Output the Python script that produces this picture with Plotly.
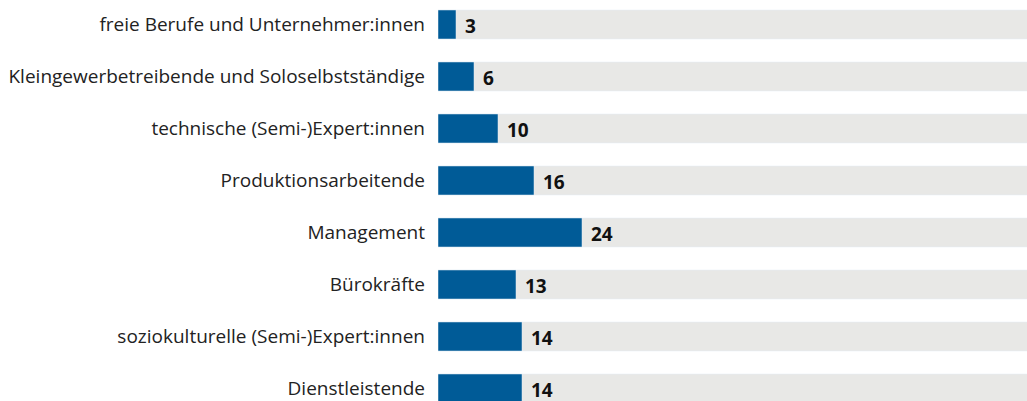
import plotly.graph_objects as go

categories = [
    "freie Berufe und Unternehmer:innen",
    "Kleingewerbetreibende und Soloselbstständige",
    "technische (Semi-)Expert:innen",
    "Produktionsarbeitende",
    "Management",
    "Bürokräfte",
    "soziokulturelle (Semi-)Expert:innen",
    "Dienstleistende",
]
values = [3, 6, 10, 16, 24, 13, 14, 14]
background = [100] * len(categories)

idx = list(range(len(categories)))
BLUE = "#005b97"
GREY = "#e8e8e6"
W, H = 1027, 401
L = 438
px_per_unit = 6.0
px_per_cat = 52.0
first_center = 24.5

fig = go.Figure()
fig.add_trace(go.Bar(x=background, y=idx, orientation="h", marker_color=GREY,
                     width=29 / px_per_cat, hoverinfo="skip", showlegend=False))
fig.add_trace(go.Bar(x=values, y=idx, orientation="h", marker_color=BLUE,
                     width=29 / px_per_cat, showlegend=False))

for i, v in zip(idx, values):
    fig.add_annotation(x=v, y=i, text=f"<b>{v}</b>", showarrow=False,
                       xanchor="left", xshift=7, yshift=-1,
                       font=dict(family="Open Sans", size=19, color="#111111"))

fig.update_layout(
    width=W, height=H,
    margin=dict(l=L, r=0, t=0, b=0),
    barmode="overlay",
    plot_bgcolor="white", paper_bgcolor="white",
    font=dict(family="Open Sans", size=19, color="#222222"),
)
fig.update_xaxes(range=[0, (W - L) / px_per_unit], visible=False, fixedrange=True)
fig.update_yaxes(
    range=[(H - first_center) / px_per_cat, -first_center / px_per_cat],
    tickmode="array", tickvals=idx, ticktext=categories,
    showgrid=False, zeroline=False, showline=False, ticks="",
    ticklabelstandoff=12, ticklabeloverflow="allow", fixedrange=True,
)
fig.write_html("out.html",
               config={"displayModeBar": False, "staticPlot": True},
               post_script="document.body.style.margin='0';document.body.style.overflow='hidden';")
